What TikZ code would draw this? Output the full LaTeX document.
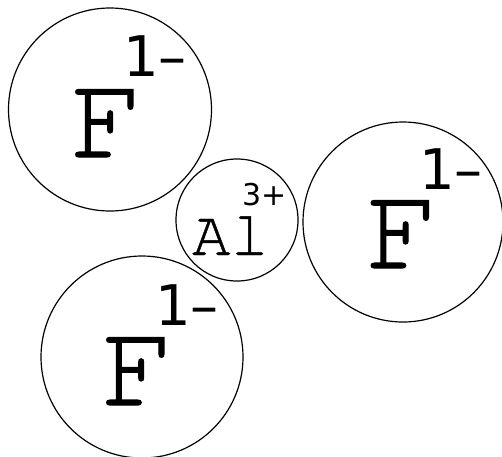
\documentclass[tikz,border=0pt]{standalone}
\usepackage{fontspec}
\newfontfamily\courierbig[FakeBold=1]{texgyrecursor-regular.otf}
\newfontfamily\couriersmall[FakeBold=0.6]{texgyrecursor-regular.otf}
\newfontfamily\supfont{DejaVu Sans}
\begin{document}
\begin{tikzpicture}[x=1pt,y=-1pt,
  ion/.style={draw=black,line width=1.2pt,circle,inner sep=0pt},
  bigsym/.style={inner sep=0pt,anchor=base,text height=68pt,text depth=0pt,font=\courierbig\fontsize{120}{120}\selectfont},
  smallsym/.style={inner sep=0pt,anchor=base,text height=40pt,text depth=0pt,font=\couriersmall\fontsize{64}{64}\selectfont},
  bigcharge/.style={inner sep=0pt,anchor=base,text height=41pt,text depth=0pt,font=\supfont\fontsize{56}{56}\selectfont},
  smallcharge/.style={inner sep=0pt,anchor=base,text height=22pt,text depth=0pt,font=\supfont\fontsize{30}{30}\selectfont}]
\useasboundingbox (0,0) rectangle (502,456);
\node[ion,minimum size=203pt] (c1) at (110,109.5) {};
\node[ion,minimum size=200pt] (c2) at (403,222) {};
\node[ion,minimum size=202pt] (c3) at (142,357) {};
\node[ion,minimum size=122pt] (c4) at (237,220) {};
\node[bigsym] (f1) at (106.5,157) {F};
\node[bigcharge] (q1) at (155,76) {1–};
\node[bigsym] (f2) at (402,268) {F};
\node[bigcharge] (q2) at (451,189) {1–};
\node[bigsym] (f3) at (137.5,405) {F};
\node[bigcharge] (q3) at (187,325) {1–};
\node[smallsym] (al) at (230.5,255) {Al};
\node[smallcharge] (q4) at (264.5,205) {3+};
\end{tikzpicture}
\end{document}
